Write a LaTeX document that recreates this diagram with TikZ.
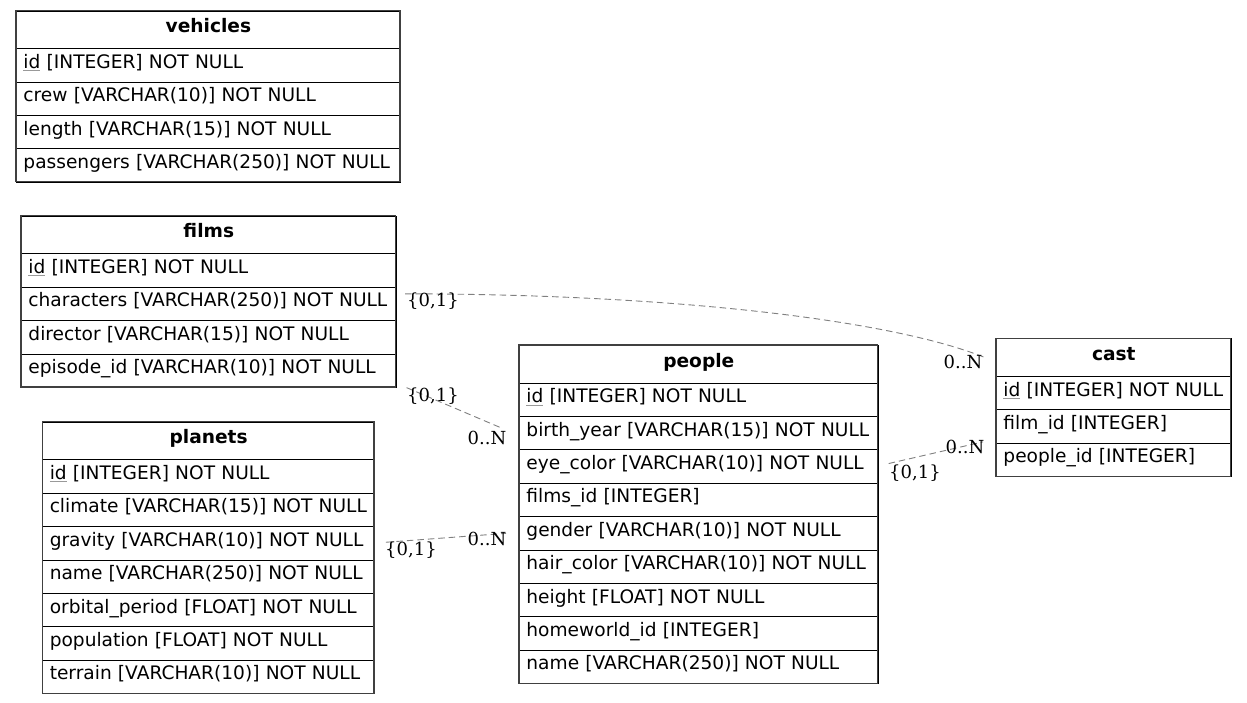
\documentclass[tikz,border=0pt]{standalone}
\usepackage{fontspec}
\setmainfont{DejaVu Sans}
\newfontfamily\cardfont{DejaVu Serif}
\usetikzlibrary{calc}

% primary-key column name, underlined with a light rule
\newcommand\pkey[1]{\setbox0\hbox{#1}\rlap{\color{black!40}\rule[-2.8pt]{\wd0}{0.9pt}}#1}

\tikzset{
  x=1pt, y=-1pt,
  headcell/.style={draw=black, line width=0.9pt, inner xsep=7pt, inner ysep=0pt,
    minimum height=37.6pt, align=center, text height=14pt, text depth=8pt,
    font=\fontsize{18.6}{22}\selectfont\bfseries},
  fieldcell/.style={draw=black, line width=0.9pt, inner xsep=7pt, inner ysep=0pt,
    minimum height=33.4pt, align=left, text height=14pt, text depth=8pt,
    font=\fontsize{18.6}{22}\selectfont},
  tableframe/.style={draw=black!75, line width=1.2pt},
  rel/.style={draw=black!50, line width=0.9pt, dash pattern=on 6.5pt off 4pt},
  card/.style={inner sep=0pt, font=\cardfont\fontsize{18}{21}\selectfont},
}

% #1 name, #2 left, #3 top, #4 width, #5 title, #6 number of fields, #7 fields
\newcommand\ertable[7]{%
  \pgfmathsetmacro\fieldw{#4-14}%
  \node[headcell, text width=\fieldw pt, anchor=north west] (#1) at (#2,#3) {#5};
  \foreach \f [count=\i] in {#7} {
    \node[fieldcell, text width=\fieldw pt, anchor=north west] (#1-\i)
      at (#2,{#3+37.6+(\i-1)*33.4}) {\f};
  }
  \draw[tableframe] (#2,#3) rectangle ({#2+#4},{#3+37.6+#6*33.4});
}

\begin{document}
\begin{tikzpicture}
\fill[white] (0,0) rectangle (1247,703);
\useasboundingbox (0,0) rectangle (1247,703);

\ertable{vehicles}{16}{10.7}{384}{vehicles}{4}{%
  \pkey{id} [INTEGER] NOT NULL,
  crew [VARCHAR(10)] NOT NULL,
  length [VARCHAR(15)] NOT NULL,
  passengers [VARCHAR(250)] NOT NULL}

\ertable{films}{21}{215.7}{374.7}{films}{4}{%
  \pkey{id} [INTEGER] NOT NULL,
  characters [VARCHAR(250)] NOT NULL,
  director [VARCHAR(15)] NOT NULL,
  episode\_id [VARCHAR(10)] NOT NULL}

\ertable{planets}{42.3}{421.7}{331.7}{planets}{7}{%
  \pkey{id} [INTEGER] NOT NULL,
  climate [VARCHAR(15)] NOT NULL,
  gravity [VARCHAR(10)] NOT NULL,
  name [VARCHAR(250)] NOT NULL,
  orbital\_period [FLOAT] NOT NULL,
  population [FLOAT] NOT NULL,
  terrain [VARCHAR(10)] NOT NULL}

\ertable{people}{519}{345}{358.7}{people}{9}{%
  \pkey{id} [INTEGER] NOT NULL,
  birth\_year [VARCHAR(15)] NOT NULL,
  eye\_color [VARCHAR(10)] NOT NULL,
  films\_id [INTEGER],
  gender [VARCHAR(10)] NOT NULL,
  hair\_color [VARCHAR(10)] NOT NULL,
  height [FLOAT] NOT NULL,
  homeworld\_id [INTEGER],
  name [VARCHAR(250)] NOT NULL}

\ertable{cast}{996}{338.3}{234.7}{cast}{3}{%
  \pkey{id} [INTEGER] NOT NULL,
  film\_id [INTEGER],
  people\_id [INTEGER]}

% relationships
\draw[rel] ([shift={(8.5,-10)}]films-2.east)
  .. controls +(250,0) and +(-100,-40) .. ([shift={(-11,0)}]cast.west);
\draw[rel] ([shift={(10,17)}]films-4.east) -- ([shift={(-16,-4.5)}]people-2.west);
\draw[rel] ([shift={(10,-3)}]people-3.east) -- ([shift={(-13,-18)}]cast-3.west);
\draw[rel] ([shift={(11,-1)}]planets-3.east) -- ([shift={(-13,0)}]people-5.west);

% cardinalities
\node[card] (c1t) at (433,301) {\{0,1\}};
\node[card] (c1h) at (963,362) {0..N};
\node[card] (c2t) at (433,396) {\{0,1\}};
\node[card] (c2h) at (487,438) {0..N};
\node[card] (c3t) at (915,473) {\{0,1\}};
\node[card] (c3h) at (965,447) {0..N};
\node[card] (c4t) at (411,550) {\{0,1\}};
\node[card] (c4h) at (487,539) {0..N};
\end{tikzpicture}
\end{document}
